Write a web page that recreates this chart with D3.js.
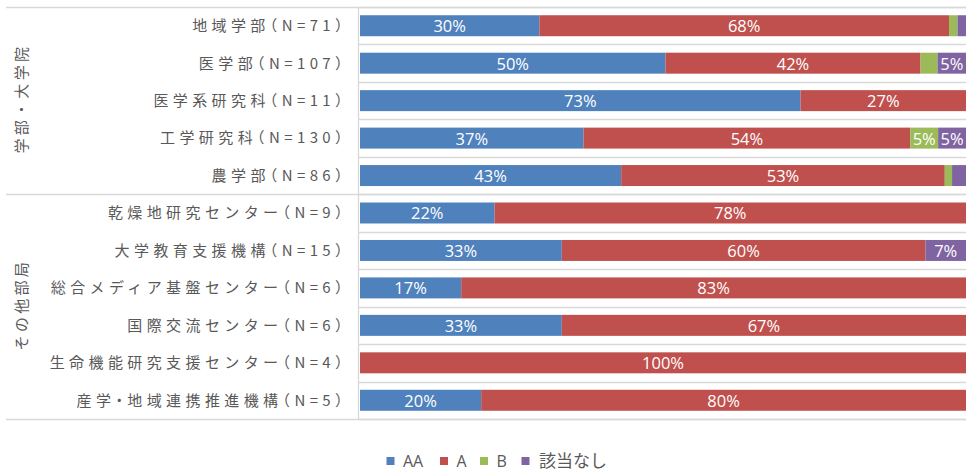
<!DOCTYPE html>
<html>
<head>
<meta charset="utf-8">
<script src="https://cdn.jsdelivr.net/npm/d3@7"></script>
<style>
  html, body { margin: 0; padding: 0; background: #fff; }
  svg { display: block; }
  .cat { font-feature-settings: "halt" 1; }
</style>
</head>
<body>
<svg id="chart" width="966" height="472"></svg>
<script>
// Departments (top to bottom) and response shares in percent
const categories = [
  "地域学部（N=71）",
  "医学部（N=107）",
  "医学系研究科（N=11）",
  "工学研究科（N=130）",
  "農学部（N=86）",
  "乾燥地研究センター（N=9）",
  "大学教育支援機構（N=15）",
  "総合メディア基盤センター（N=6）",
  "国際交流センター（N=6）",
  "生命機能研究支援センター（N=4）",
  "産学・地域連携推進機構（N=5）"
];
const seriesNames = ["AA", "A", "B", "該当なし"];
const valuesAA   = [29.6, 50.4, 72.7, 36.9, 43.1, 22.2, 33.3, 16.7, 33.3, 0, 20];
const valuesA    = [67.6, 42.1, 27.3, 53.9, 53.4, 77.8, 60.0, 83.3, 66.7, 100, 80];
const valuesB    = [1.4, 2.8, 0, 4.6, 1.2, 0, 0, 0, 0, 0, 0];
const valuesNone = [1.4, 4.7, 0, 4.6, 2.3, 0, 6.7, 0, 0, 0, 0];
const groups = [
  { name: "学部・大学院", first: 0, last: 4 },
  { name: "その他部局", first: 5, last: 10 }
];
const colors = ["#4F81BD", "#C0504D", "#9BBB59", "#8064A2"];

(function draw() {
  const svg = d3.select("#chart");
  const plotLeft = 359, plotRight = 966, plotTop = 7, plotBottom = 419;
  const textColor = "#595959";
  const gridColor = "#D9D9D9";
  const cjk = "'Noto Sans CJK JP', 'Noto Sans', sans-serif";
  const latin = "'Open Sans', sans-serif";

  const x = d3.scaleLinear().domain([0, 100]).range([plotLeft + 1, plotRight]);
  const y = d3.scaleBand().domain(categories).range([plotTop, plotBottom])
    .paddingInner(0.44).paddingOuter(0.22);
  const step = y.step();

  // Row separators inside the plot
  const rowEdges = d3.range(categories.length + 1).map(i => plotTop + i * step);
  svg.append("g").selectAll("line").data(rowEdges).join("line")
    .attr("x1", plotLeft).attr("x2", plotRight)
    .attr("y1", d => Math.round(d) + 0.5).attr("y2", d => Math.round(d) + 0.5)
    .attr("stroke", gridColor).attr("stroke-width", 1.3);

  // Group separators running across the label area
  const groupEdges = [plotTop, plotTop + (groups[0].last + 1) * step, plotBottom];
  svg.append("g").selectAll("line").data(groupEdges).join("line")
    .attr("x1", 6).attr("x2", plotRight)
    .attr("y1", d => Math.round(d) + 0.5).attr("y2", d => Math.round(d) + 0.5)
    .attr("stroke", gridColor).attr("stroke-width", 1.3);

  // Category axis line
  svg.append("line")
    .attr("x1", plotLeft - 0.5).attr("x2", plotLeft - 0.5)
    .attr("y1", plotTop).attr("y2", plotBottom)
    .attr("stroke", gridColor).attr("stroke-width", 1.3);

  // Stack the series
  const rows = categories.map((c, i) => ({
    cat: c, AA: valuesAA[i], A: valuesA[i], B: valuesB[i], "該当なし": valuesNone[i]
  }));
  const stacked = d3.stack().keys(seriesNames)(rows);

  const layers = svg.append("g").selectAll("g").data(stacked).join("g")
    .attr("fill", (d, i) => colors[i]);
  layers.selectAll("rect").data(d => d).join("rect")
    .attr("x", d => x(d[0]))
    .attr("y", d => y(d.data.cat))
    .attr("width", d => Math.max(0, x(d[1]) - x(d[0])))
    .attr("height", y.bandwidth());

  // Value labels for segments wide enough to carry one
  const fmt = v => Math.round(v) + "%";
  const labels = svg.append("g");
  stacked.forEach(layer => {
    layer.forEach(d => {
      const v = d[1] - d[0];
      if (v < 3.5) return;
      labels.append("text")
        .attr("x", (x(d[0]) + x(d[1])) / 2)
        .attr("y", y(d.data.cat) + y.bandwidth() / 2 + 0.5)
        .attr("dy", "0.36em")
        .attr("text-anchor", "middle")
        .attr("fill", "#fff")
        .attr("font-family", latin)
        .attr("font-size", 16.5)
        .text(fmt(v));
    });
  });

  // Category labels
  svg.append("g").selectAll("text").data(categories).join("text")
    .attr("class", "cat")
    .attr("x", 347)
    .attr("y", d => y(d) + y.bandwidth() / 2)
    .attr("dy", "0.36em")
    .attr("text-anchor", "end")
    .attr("fill", textColor)
    .attr("font-family", cjk)
    .attr("font-size", 15)
    .attr("letter-spacing", 4.4)
    .text(d => d);

  // Group labels, rotated
  svg.append("g").selectAll("text").data(groups).join("text")
    .attr("transform", g => {
      const cy = plotTop + ((g.first + g.last + 1) / 2) * step;
      return `translate(22,${cy}) rotate(-90)`;
    })
    .attr("text-anchor", "middle")
    .attr("dx", 2)
    .attr("dy", "0.36em")
    .attr("fill", textColor)
    .attr("font-family", cjk)
    .attr("font-size", 15)
    .attr("letter-spacing", 3.3)
    .text(g => g.name);

  // Legend
  const legend = svg.append("g").attr("transform", "translate(0,461)");
  const legendX = [386.5, 440, 480, 521.5];
  seriesNames.forEach((name, i) => {
    const item = legend.append("g").attr("transform", `translate(${legendX[i]},0)`);
    item.append("rect").attr("x", 0).attr("y", -4).attr("width", 8).attr("height", 8)
      .attr("fill", colors[i]);
    item.append("text").attr("x", i === 3 ? 17.5 : 16.5).attr("dy", "0.36em")
      .attr("fill", textColor)
      .attr("font-family", i === 3 ? cjk : latin)
      .attr("font-size", i === 3 ? 17 : 16)
      .text(name);
  });
})();
</script>
</body>
</html>
